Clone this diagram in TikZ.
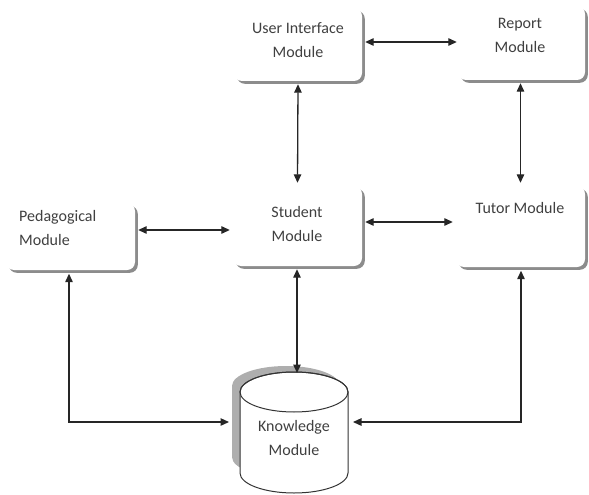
\documentclass[tikz,border=0pt]{standalone}
\usepackage{fontspec}
\setmainfont{Carlito}
\usetikzlibrary{shadows,arrows.meta,calc}
\definecolor{txtc}{HTML}{404040}
\definecolor{shd}{HTML}{8C8C8C}
\tikzset{
  modbox/.style={draw=none, fill=white, rounded corners=8pt, inner sep=0pt,
    drop shadow={shadow xshift=2.8pt, shadow yshift=-2.8pt, fill=shd, opacity=1}},
  lbl/.style={text=txtc, font=\fontsize{16}{24}\selectfont, align=center, inner sep=0pt},
  arr/.style={line width=1.3pt, draw=black!85, {Triangle[length=8.5pt,width=7.5pt]}-{Triangle[length=8.5pt,width=7.5pt]}},
}
\begin{document}
\begin{tikzpicture}[x=1pt,y=-1pt]
\useasboundingbox (0,0) rectangle (589,495);
% boxes
\node[modbox, minimum width=128pt, minimum height=73pt] (ui) at (298,44.5) {};
\node[modbox, minimum width=127pt, minimum height=74pt] (rp) at (521.5,43) {};
\node[modbox, minimum width=129pt, minimum height=67pt] (ped) at (70.5,236.5) {};
\node[modbox, minimum width=129pt, minimum height=80pt] (st) at (297.5,226) {};
\node[modbox, minimum width=129pt, minimum height=81pt] (tu) at (520.5,226.5) {};
% texts
\node[lbl] (uit) at (298,40) {User Interface\\Module};
\node[lbl] (rpt) at (520,35) {Report\\Module};
\node[lbl, align=left, anchor=west] (pedt) at (19,228.5) {Pedagogical\\Module};
\node[lbl] (stt) at (297,224) {Student\\Module};
\node[lbl] (tut) at (520,208) {Tutor Module};
% cylinder (knowledge module)
\fill[shd!70] (232,386) -- (232,457) arc[start angle=180,end angle=0,x radius=54,y radius=20]
  -- (340,386) arc[start angle=0,end angle=-180,x radius=54,y radius=20] -- cycle;
\draw[line width=1pt, draw=black!80, fill=white] (240,392) -- (240,473) arc[start angle=180,end angle=0,x radius=54,y radius=20]
  -- (348,392) arc[start angle=0,end angle=-180,x radius=54,y radius=20] -- cycle;
\draw[line width=1pt, draw=black!80] (294,392) ellipse [x radius=54, y radius=20];
\node[lbl] (kn) at (294,437.5) {Knowledge\\Module};
\coordinate (knt) at (297,373);
\coordinate (knw) at (229,422);
\coordinate (kne) at (353,422);
% connectors
\draw[arr] ($(ui.east)+(3,-2.5)$) -- ($(rp.west)+(-1,-1)$);
\draw[arr] ([yshift=-3pt]ui.south) -- ([yshift=3pt]st.north);
\draw[arr] ([yshift=-3pt]rp.south -| tu.north) -- ([yshift=3pt]tu.north);
\draw[arr] ($(ped.east)+(3,-6.5)$) -- ($(st.west)+(-3,4)$);
\draw[arr] ($(st.east)+(3,-4)$) -- ($(tu.west)+(-3,-4.5)$);
\draw[arr] ([yshift=-3pt]st.south -| knt) -- (knt);
\draw[arr] ($(ped.south)+(-1.5,3.5)$) |- (knw);
\draw[arr] ($(tu.south)+(0.5,3.5)$) |- (kne);
\end{tikzpicture}
\end{document}
